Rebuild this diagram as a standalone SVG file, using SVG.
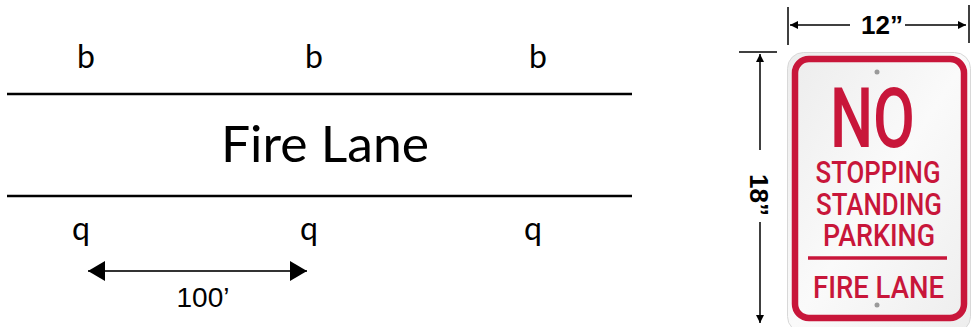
<svg xmlns="http://www.w3.org/2000/svg" width="973" height="327" viewBox="0 0 973 327">
<defs>
<style>
.lbl{font-family:Lato,"Open Sans","Liberation Sans",sans-serif;fill:#000;text-anchor:middle}
.dim{font-family:"Liberation Sans",Arial,sans-serif;font-weight:bold;fill:#000;text-anchor:middle}
.sgn{font-family:Roboto,"Liberation Sans",sans-serif;font-weight:500;fill:#c8163a;text-anchor:middle}
.ln{stroke:#000;fill:none}
</style>
<marker id="ah" viewBox="0 0 10 10" refX="10" refY="5" markerWidth="8" markerHeight="8" markerUnits="userSpaceOnUse" orient="auto-start-reverse"><path d="M0,0 L10,5 L0,10 Z" fill="#000"/></marker>
<marker id="ahBig" viewBox="0 0 17 20" refX="17" refY="10" markerWidth="17" markerHeight="20" markerUnits="userSpaceOnUse" orient="auto-start-reverse"><path d="M0,0 L17,10 L0,20 Z" fill="#000"/></marker>
<linearGradient id="panel" x1="0" y1="0" x2="1" y2="1">
<stop offset="0" stop-color="#ececec"/><stop offset="0.5" stop-color="#fafafa"/><stop offset="1" stop-color="#ededed"/>
</linearGradient>
</defs>
<rect width="973" height="327" fill="#fff"/>

<g id="fire-lane">
<line class="ln" x1="7" y1="94" x2="632" y2="94" stroke-width="2.5"/>
<line class="ln" x1="7" y1="196" x2="632" y2="196" stroke-width="2.5"/>
<text class="lbl" x="325" y="162" font-size="51" textLength="208" lengthAdjust="spacingAndGlyphs">Fire Lane</text>
</g>

<g id="signs-top">
<text class="lbl" x="86" y="68" font-size="32">b</text>
<text class="lbl" x="314" y="68" font-size="32">b</text>
<text class="lbl" x="538" y="68" font-size="32">b</text>
</g>
<g id="signs-bottom">
<text class="lbl" x="81" y="240" font-size="32">q</text>
<text class="lbl" x="309" y="240" font-size="32">q</text>
<text class="lbl" x="533" y="240" font-size="32">q</text>
</g>

<g id="connectors">
<line x1="88" y1="271" x2="307" y2="271" stroke="#333" stroke-width="2" marker-start="url(#ahBig)" marker-end="url(#ahBig)"/>
<line class="ln" x1="788" y1="7" x2="788" y2="45" stroke-width="1.5"/>
<line class="ln" x1="969" y1="5" x2="969" y2="43" stroke-width="1.5"/>
<line class="ln" x1="790" y1="25" x2="850" y2="25" stroke-width="1.5" marker-start="url(#ah)"/>
<line class="ln" x1="905" y1="25" x2="966" y2="25" stroke-width="1.5" marker-end="url(#ah)"/>
<line class="ln" x1="739" y1="52" x2="777" y2="52" stroke-width="1.5"/>
<line class="ln" x1="760" y1="54" x2="760" y2="150" stroke-width="1.5" marker-start="url(#ah)"/>
<line class="ln" x1="760" y1="222" x2="760" y2="323" stroke-width="1.5" marker-end="url(#ah)"/>
</g>

<g id="dim-labels">
<text class="lbl" x="203" y="307" font-size="28" style="font-family:'Liberation Sans',Arial,sans-serif">100’</text>
<text class="dim" x="882" y="34" font-size="26">12”</text>
<text class="dim" transform="translate(750,195) rotate(90)" x="0" y="0" font-size="26">18”</text>
</g>

<g id="sign">
<rect x="787.5" y="52.5" width="183" height="280" rx="16" fill="url(#panel)" stroke="#d8d8d8" stroke-width="1"/>
<rect x="795" y="59" width="169" height="259" rx="14" fill="none" stroke="#c8163a" stroke-width="6.5"/>
<circle cx="877" cy="72" r="2.5" fill="#9a9a9a"/>
<circle cx="877" cy="305" r="2.5" fill="#9a9a9a"/>
<text class="sgn" x="872.5" y="147" font-size="83" textLength="85" lengthAdjust="spacingAndGlyphs">NO</text>
<text class="sgn" font-size="31"><tspan x="878" y="183" textLength="125" lengthAdjust="spacingAndGlyphs">STOPPING</tspan><tspan x="879" y="214.5" textLength="126" lengthAdjust="spacingAndGlyphs">STANDING</tspan><tspan x="879" y="246" textLength="112" lengthAdjust="spacingAndGlyphs">PARKING</tspan></text>
<line x1="808" y1="258" x2="947" y2="258" stroke="#c8163a" stroke-width="3.5"/>
<text class="sgn" x="878.5" y="298" font-size="32" textLength="131" lengthAdjust="spacingAndGlyphs">FIRE LANE</text>
</g>
</svg>
